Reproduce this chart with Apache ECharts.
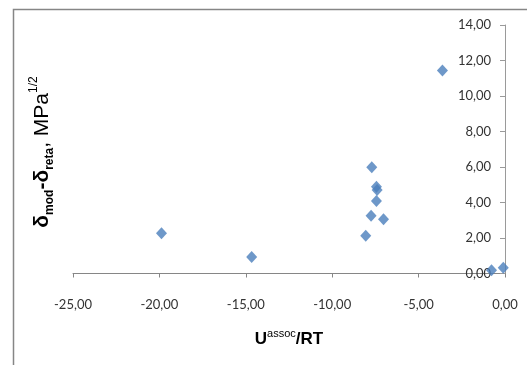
<!DOCTYPE html>
<html>
<head>
<meta charset="utf-8">
<script src="https://cdn.jsdelivr.net/npm/echarts@6/dist/echarts.min.js"></script>
<style>
  html, body { margin: 0; padding: 0; background: #fff; }
  #chart { width: 527px; height: 365px; }
</style>
</head>
<body>
<div id="chart"></div>
<script>
// Association energy vs. solubility-parameter deviation
const uAssocRT = [-19.88, -14.66, -8.06, -7.75, -7.71, -7.44, -7.40, -7.44, -7.03, -3.62, -0.78, -0.10];
const deltaDiff = [2.27, 0.93, 2.12, 3.25, 5.99, 4.89, 4.70, 4.08, 3.06, 11.43, 0.19, 0.32];

const xRange = [-25, 0];
const xStep = 5;
const yRange = [0, 14];
const yStep = 2;

const points = uAssocRT.map((x, i) => [x, deltaDiff[i]]);
const fmt = v => v.toFixed(2).replace('.', ',');

const chart = echarts.init(document.getElementById('chart'));
chart.setOption({
  animation: false,
  backgroundColor: '#fff',
  grid: { left: 73, right: 22, top: 25, bottom: 91.5 },
  xAxis: {
    type: 'value',
    min: xRange[0], max: xRange[1], interval: xStep,
    splitLine: { show: false },
    axisLine: { onZero: false, lineStyle: { color: '#868686', width: 1 } },
    axisTick: { show: true, length: 4, lineStyle: { color: '#868686' } },
    axisLabel: {
      formatter: fmt, margin: 25,
      fontFamily: 'Lato', fontSize: 13, color: '#333'
    },
    name: '{u|U}{sup|assoc}{u|/RT}',
    nameLocation: 'middle',
    nameGap: 55,
    nameTextStyle: {
      rich: {
        u: { fontFamily: 'Liberation Sans', fontSize: 17, fontWeight: 'bold', color: '#000', lineHeight: 22 },
        sup: { fontFamily: 'Liberation Sans', fontSize: 11, color: '#000', lineHeight: 13, verticalAlign: 'top' }
      }
    }
  },
  yAxis: {
    type: 'value',
    position: 'right',
    min: yRange[0], max: yRange[1], interval: yStep,
    splitLine: { show: false },
    axisLine: { onZero: false, lineStyle: { color: '#9a9a9a', width: 1 } },
    axisTick: { show: true, inside: true, length: 5, lineStyle: { color: '#9a9a9a' } },
    axisLabel: {
      inside: true, formatter: fmt, margin: 14,
      fontFamily: 'Lato', fontSize: 13, color: '#333'
    }
  },
  graphic: [
    {
      type: 'rect',
      shape: { x: 13.5, y: 9.5, width: 600, height: 400 },
      style: { fill: 'none', stroke: '#868686', lineWidth: 1.5 },
      silent: true
    },
    {
      type: 'text',
      x: 42, y: 152,
      rotation: Math.PI / 2,
      style: {
        text: '{d|δ}{sub|mod}{d|-δ}{sub|reta}{m|, MPa}{sup|1/2}',
        align: 'center',
        verticalAlign: 'middle',
        rich: {
          d: { fontFamily: 'Liberation Sans', fontSize: 21, fontWeight: 'bold', fill: '#000', lineHeight: 28 },
          m: { fontFamily: 'Liberation Sans', fontSize: 21, fill: '#000', lineHeight: 28 },
          sub: { fontFamily: 'Liberation Sans', fontSize: 12, fontWeight: 'bold', fill: '#000', lineHeight: 15, verticalAlign: 'bottom' },
          sup: { fontFamily: 'Liberation Sans', fontSize: 12, fill: '#000', lineHeight: 15, verticalAlign: 'top' }
        }
      },
      silent: true
    }
  ],
  series: [{
    type: 'scatter',
    data: points,
    symbol: 'diamond',
    symbolSize: [11, 12],
    itemStyle: { color: '#4a7ebb' },
    z: 5
  }]
});
</script>
</body>
</html>
